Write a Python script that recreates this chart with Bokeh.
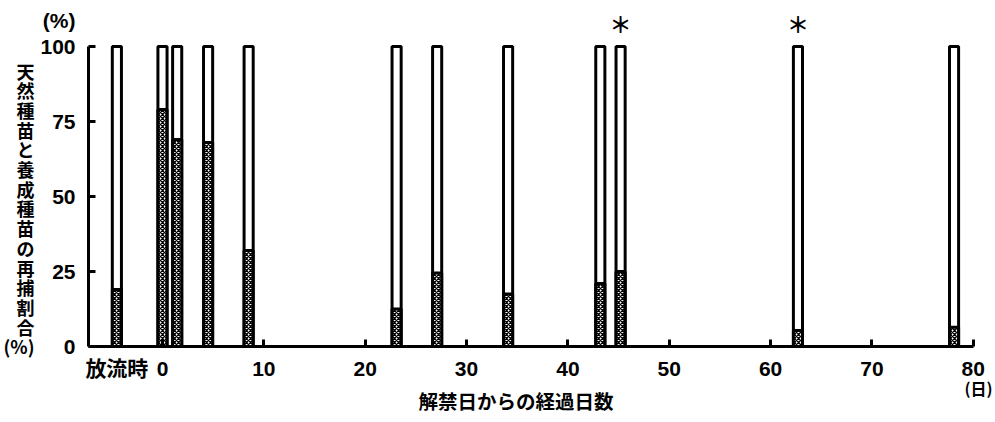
from bokeh.plotting import figure
from bokeh.models import Range1d, FixedTicker, Label, ColumnDataSource, Title, LinearAxis
from bokeh.embed import file_html
from bokeh.resources import INLINE

# ---- data ----
bar_x = [-4.5, 0.0, 1.45, 4.5, 8.5, 23.1, 27.1, 34.1, 43.2, 45.2, 62.7, 78.1]
natural_pct = [19, 79, 69, 68, 32, 12.5, 24.5, 17.5, 21, 25, 5.3, 6.4]
total_pct = [100] * len(bar_x)
release_x = -4.5
release_label = "放流時"
star_x = [45.2, 62.7]
x_ticks = [0, 10, 20, 30, 40, 50, 60, 70, 80]
y_ticks = [0, 25, 50, 75, 100]
y_unit_pos = 108.7
y_unit_label = "(%)"
y_title_chars = list("天然種苗と養成種苗の再捕割合") + ["(%)"]
x_title = "解禁日からの経過日数"
x_unit = "(日)"

NUM_FONT = "Liberation Sans, Noto Sans CJK JP"
JP_FONT = "Noto Sans CJK JP"

p = figure(frame_width=900, frame_height=336, output_backend="svg", toolbar_location=None,
           x_range=Range1d(-7.3, 81.5), y_range=Range1d(0, 112),
           min_border_left=88, min_border_right=6, min_border_top=10, min_border_bottom=74)
p.outline_line_color = None
p.xgrid.grid_line_color = None
p.ygrid.grid_line_color = None

src = ColumnDataSource(dict(x=bar_x, top=total_pct, nat=natural_pct))
p.vbar(x="x", top="top", bottom=0, width=0.9, source=src,
       fill_color="white", line_color="black", line_width=3)
p.vbar(x="x", top="nat", bottom=0, width=0.9, source=src,
       fill_color="white", line_color="black", line_width=3,
       hatch_pattern="x", hatch_color="black", hatch_scale=4, hatch_weight=1.3)

# --- y axis: line + tick marks (nearest the frame)
L = p.yaxis[0]
L.ticker = FixedTicker(ticks=y_ticks)
L.bounds = (0, 100)
L.axis_line_width = 3
L.axis_line_color = "black"
L.major_tick_line_width = 3
L.major_tick_line_color = "black"
L.major_tick_in = 7
L.major_tick_out = 0
L.minor_tick_line_color = None
L.major_label_overrides = {t: "" for t in y_ticks}
L.major_label_standoff = 0

# --- y axis: numbers + unit (labels only)
N = LinearAxis(ticker=FixedTicker(ticks=y_ticks + [y_unit_pos]),
               major_label_overrides={y_unit_pos: y_unit_label},
               axis_line_color=None, major_tick_line_color=None, minor_tick_line_color=None,
               major_tick_out=0, major_tick_in=0, minor_tick_out=0, minor_tick_in=0,
               major_label_standoff=13,
               major_label_text_font=NUM_FONT, major_label_text_font_style="bold",
               major_label_text_font_size="21px", major_label_text_color="black")
p.add_layout(N, "left")

# --- y title written vertically, one character per line
n = len(y_title_chars)
title_pos = [round(92.0 - i * 6.57, 2) for i in range(n)]
J = LinearAxis(ticker=FixedTicker(ticks=title_pos),
               major_label_overrides=dict(zip(title_pos, y_title_chars)),
               axis_line_color=None, major_tick_line_color=None, minor_tick_line_color=None,
               major_tick_out=0, major_tick_in=0, minor_tick_out=0, minor_tick_in=0,
               major_label_standoff=3,
               major_label_text_font=JP_FONT, major_label_text_font_style="bold",
               major_label_text_font_size="18px", major_label_text_color="black")
p.add_layout(J, "left")

# --- x axis
X = p.xaxis[0]
X.ticker = FixedTicker(ticks=[release_x] + x_ticks, minor_ticks=x_ticks)
X.major_label_overrides = {release_x: release_label}
X.bounds = (-7.3, 80)
X.axis_line_width = 3
X.axis_line_color = "black"
X.major_tick_line_color = None
X.major_tick_out = 0
X.major_tick_in = 0
X.minor_tick_line_color = "black"
X.minor_tick_line_width = 3
X.minor_tick_in = 7
X.minor_tick_out = 0
X.major_label_standoff = 10
X.major_label_text_font = NUM_FONT
X.major_label_text_font_style = "bold"
X.major_label_text_font_size = "21px"
X.major_label_text_color = "black"

p.add_layout(Title(text=x_unit, align="right", offset=-4, standoff=-17,
                   text_font=JP_FONT, text_font_size="16px", text_font_style="bold",
                   text_color="black"), "below")
p.add_layout(Title(text=x_title, align="left", offset=330, standoff=-15,
                   text_font=JP_FONT, text_font_size="19.5px", text_font_style="bold",
                   text_color="black"), "below")

for sx in star_x:
    p.add_layout(Label(x=sx, y=108.0, text="＊", text_font=JP_FONT, text_font_size="22px",
                       text_font_style="bold", text_align="center", text_baseline="middle",
                       text_color="black"))

open("out.html", "w").write(file_html(p, INLINE))
